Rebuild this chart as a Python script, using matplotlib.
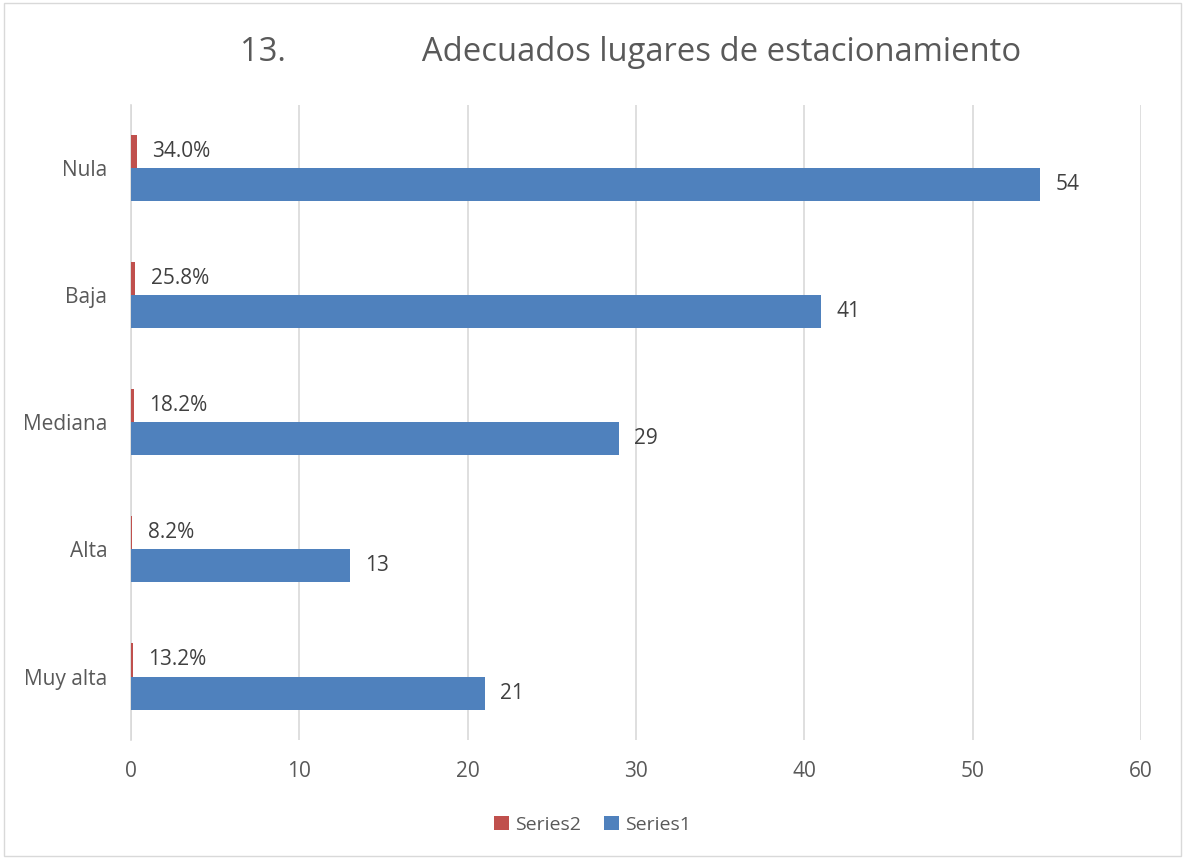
import matplotlib.pyplot as plt
import numpy as np

categories = ['Muy alta', 'Alta', 'Mediana', 'Baja', 'Nula']
series1 = [21, 13, 29, 41, 54]
series2 = [0.132, 0.082, 0.182, 0.258, 0.340]

plt.rcParams['font.family'] = ['Open Sans', 'DejaVu Sans']
txt = '#595959'

fig = plt.figure(figsize=(11.85, 8.59), dpi=100)
ax = fig.add_axes([0.1105, 0.1385, 0.8525, 0.7395])

y = np.arange(len(categories))
h = 0.26
b1 = ax.barh(y - h / 2, series1, height=h, color='#4f81bd', label='Series1', zorder=3)
b2 = ax.barh(y + h / 2, series2, height=h, color='#c0504d', label='Series2', zorder=3)

ax.bar_label(b1, labels=[str(v) for v in series1], padding=11, fontsize=15, color='#404040')
ax.bar_label(b2, labels=['%.1f%%' % (v * 100) for v in series2], padding=11, fontsize=15, color='#404040')

ax.set_xlim(0, 60)
ax.set_ylim(-0.5, 4.5)
ax.set_xticks(range(0, 61, 10))
ax.set_yticks(y)
ax.set_yticklabels(categories)
ax.tick_params(length=0, labelsize=15, labelcolor=txt)
ax.tick_params(axis='y', pad=17)
ax.tick_params(axis='x', pad=15)
ax.xaxis.grid(True, color='#d9d9d9', linewidth=1.2, zorder=0)
for s in ['top', 'right', 'bottom']:
    ax.spines[s].set_visible(False)
ax.spines['left'].set_color('#d9d9d9')
ax.spines['left'].set_linewidth(1.2)

fig.text(0.532, 0.939, '13.                Adecuados lugares de estacionamiento',
         ha='center', va='center', fontsize=23.6, color=txt)

handles, labels = ax.get_legend_handles_labels()
fig.legend(handles[::-1], labels[::-1], loc='center', bbox_to_anchor=(0.5, 0.04), ncol=2,
           frameon=False, fontsize=14, labelcolor=txt, handlelength=0.75, handleheight=0.75,
           handletextpad=0.3, columnspacing=1.2)

fig.patches.append(plt.Rectangle((0.003, 0.003), 0.994, 0.994, transform=fig.transFigure,
                                 fill=False, edgecolor='#d9d9d9', linewidth=1))

fig.savefig('out.png', dpi=100)
